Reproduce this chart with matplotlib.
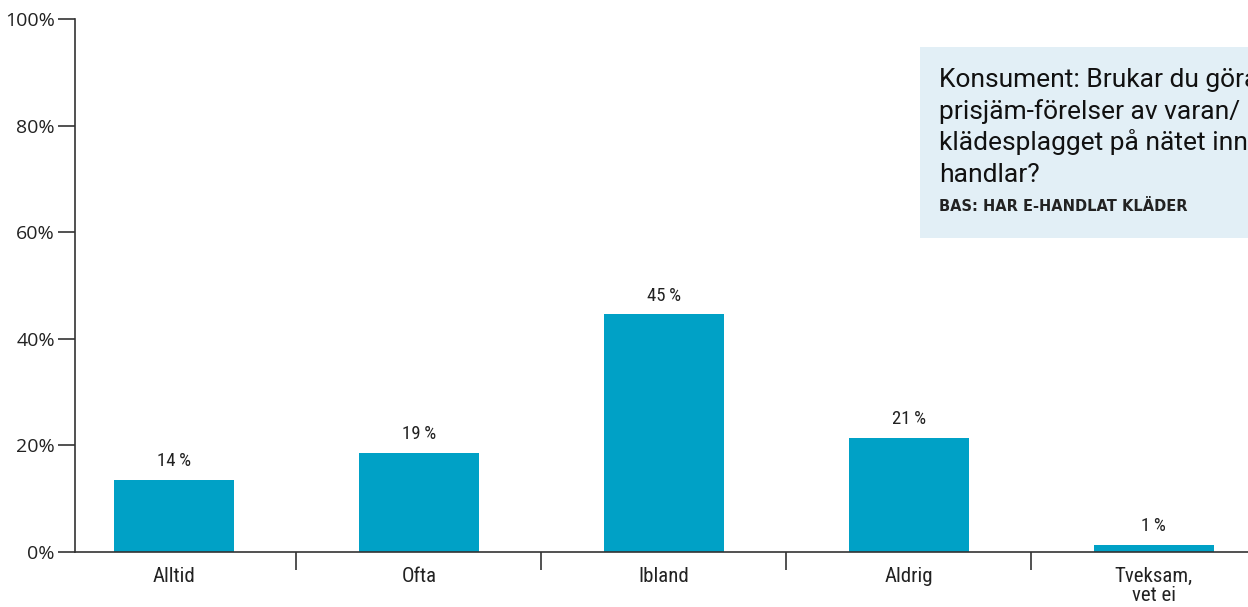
import matplotlib.pyplot as plt
from matplotlib.patches import Rectangle
from matplotlib.ticker import FixedLocator

# Svarsfördelning, andel i procent
kategorier = ['Alltid', 'Ofta', 'Ibland', 'Aldrig', 'Tveksam,\nvet ei']
andelar = [13.6, 18.6, 44.6, 21.4, 1.4]
y_ticks = [0, 20, 40, 60, 80, 100]

fraga = ['Konsument: Brukar du göra',
         'prisjäm-förelser av varan/',
         'klädesplagget på nätet innan du',
         'handlar?']
bas = 'BAS: HAR E-HANDLAT KLÄDER'

smal = ['Roboto Condensed', 'DejaVu Sans']
rubrik = ['Roboto', 'DejaVu Sans']
bred = ['Open Sans', 'DejaVu Sans']
bar_color = '#00a1c6'
axis_color = '#333333'

W, H = 1248, 607
fig = plt.figure(figsize=(W / 100, H / 100), dpi=100)
ax = fig.add_axes([75 / W, 55 / H, (W - 75) / W, 533 / H])

x = list(range(len(kategorier)))
bars = ax.bar(x, andelar, width=0.49, color=bar_color, zorder=1)

for b, v in zip(bars, andelar):
    ax.annotate(f'{round(v)}\u2009%', (b.get_x() + b.get_width() / 2, v),
                xytext=(0, 7), textcoords='offset points',
                ha='center', va='bottom', fontsize=13.5, family=smal,
                color='#222222')

ax.set_xlim(-0.404, 4.384)
ax.set_ylim(0, 100)

ax.set_xticks(x)
ax.set_xticklabels(kategorier, family=smal, fontsize=15, color='#222222',
                   linespacing=1.0)
ax.xaxis.set_minor_locator(FixedLocator([0.5, 1.5, 2.5, 3.5]))
ax.tick_params(axis='x', which='major', length=0, pad=11)
ax.tick_params(axis='x', which='minor', length=13, width=1.2,
               color=axis_color, direction='out')

ax.set_yticks(y_ticks)
ax.set_yticklabels([f'{t}%' for t in y_ticks], family=bred, fontsize=14,
                   color='#222222')
ax.tick_params(axis='y', length=12, width=1.2, color=axis_color, pad=2.5)

for side in ['top', 'right']:
    ax.spines[side].set_visible(False)
for side in ['left', 'bottom']:
    ax.spines[side].set_color(axis_color)
    ax.spines[side].set_linewidth(1.2)

# Frågeruta uppe till höger
fig.patches.append(Rectangle((920 / W, (H - 238) / H), (W - 920) / W + 0.05,
                             191 / H, transform=fig.transFigure,
                             facecolor='#e2eff6', edgecolor='none', zorder=3))
for i, rad in enumerate(fraga):
    fig.text(939 / W, (H - 87 - 31.5 * i) / H, rad, family=rubrik,
             fontsize=19, color='#111111', va='baseline', zorder=4)
fig.text(939 / W, (H - 211) / H, bas, family=['DejaVu Sans'], fontsize=10.5,
         fontweight='bold', color='#222222', va='baseline', zorder=4)

fig.savefig('out.png', dpi=100)
